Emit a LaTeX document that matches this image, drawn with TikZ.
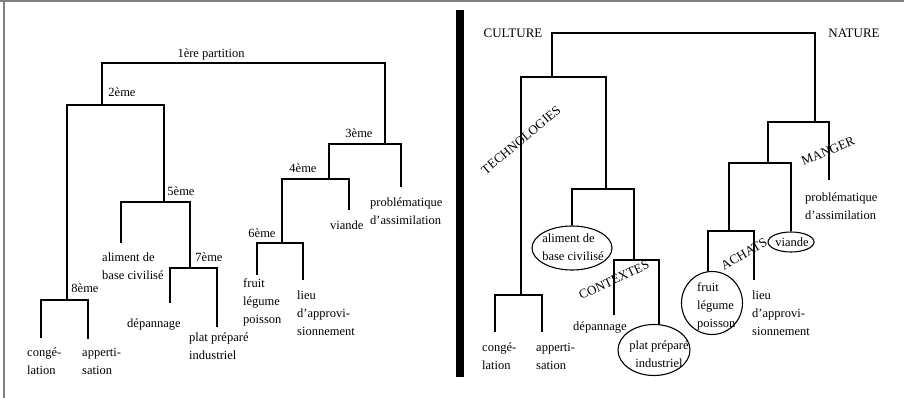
\documentclass[tikz,border=0pt]{standalone}
\usepackage{fontspec}
\setmainfont{Liberation Serif}
\usetikzlibrary{shapes.geometric}
\begin{document}
\begin{tikzpicture}[x=1pt,y=-1pt,
  br/.style={line width=1.1pt},
  lab/.style={inner sep=0pt, font=\fontsize{12.5}{18}\selectfont, align=left},
  capslab/.style={inner sep=0pt, font=\fontsize{13}{16}\selectfont},
  oval/.style={draw, line width=1.1pt, ellipse, inner sep=0pt}]
\useasboundingbox (0,0) rectangle (904,398);
% frame and separator
\draw[gray, line width=2pt] (0,1.5) -- (904,1.5);
\draw[gray, line width=1.5pt] (4,1.5) -- (4,398);
\fill (456,10) rectangle (464,377);

% ---------------- left tree ----------------
\coordinate (Lr) at (240,63);
\coordinate (L2) at (102,105);
\coordinate (L3) at (385,144);
\coordinate (L4) at (329,179);
\coordinate (L5) at (164,202);
\coordinate (L6) at (282,243);
\coordinate (L7) at (190,268);
\coordinate (L8) at (67,300);
\coordinate (la) at (41,338);
\coordinate (lb) at (88,339);
\coordinate (lc) at (121,243);
\coordinate (ld) at (170,303);
\coordinate (le) at (217,327);
\coordinate (lf) at (401,187);
\coordinate (lg) at (349,210);
\coordinate (lh) at (257,275);
\coordinate (li) at (303,280);

\draw[br] (L2) |- (Lr) -| (L3);
\draw[br] (L8) |- (L2) -| (L5);
\draw[br] (la) |- (L8) -| (lb);
\draw[br] (lc) |- (L5) -| (L7);
\draw[br] (ld) |- (L7) -| (le);
\draw[br] (L4) |- (L3) -| (lf);
\draw[br] (L6) |- (L4) -| (lg);
\draw[br] (lh) |- (L6) -| (li);

\node[lab] (p1) at (211,54) {1ère partition};
\node[lab] (p2) at (122,92) {2ème};
\node[lab] (p3) at (359,133) {3ème};
\node[lab] (p4) at (303,168) {4ème};
\node[lab] (p5) at (181,191) {5ème};
\node[lab] (p6) at (262,233) {6ème};
\node[lab] (p7) at (209,257) {7ème};
\node[lab] (p8) at (85,288) {8ème};

\node[lab, anchor=west] (tla) at (27,361) {congé-\\lation};
\node[lab, anchor=west] (tlb) at (82,361) {apperti-\\sation};
\node[lab, anchor=west] (tlc) at (102,266) {aliment de\\base civilisé};
\node[lab, anchor=west] (tld) at (127,325) {dépannage};
\node[lab, anchor=west] (tle) at (189,346) {plat préparé\\industriel};
\node[lab, anchor=west] (tlf) at (370,211) {problématique\\d’assimilation};
\node[lab, anchor=west] (tlg) at (330,225) {viande};
\node[lab, anchor=west] (tlh) at (243,302) {fruit\\légume\\poisson};
\node[lab, anchor=west] (tli) at (297,313) {lieu\\d’approvi-\\sionnement};

% ---------------- right tree ----------------
\node[oval, minimum width=80pt, minimum height=44pt] (alimE) at (572,248) {};
\node[oval, minimum width=72pt, minimum height=51pt] (platE) at (654,350) {};
\node[oval, minimum width=61pt, minimum height=63pt] (fruitE) at (712,303) {};
\node[oval, minimum width=46pt, minimum height=20pt] (viandeE) at (791,242) {};

\coordinate (Rr) at (683,33);
\coordinate (RT) at (552,77);
\coordinate (RN) at (815,122);
\coordinate (RTl) at (521,295);
\coordinate (RTr) at (606,189);
\coordinate (RC) at (634,260);
\coordinate (RM) at (768,163);
\coordinate (RA) at (729,231);
\coordinate (ra) at (495,332);
\coordinate (rb) at (542,332);
\coordinate (rd) at (614,315);
\coordinate (re) at (659,325.2);
\coordinate (rf) at (829,180);
\coordinate (rh) at (708,271.3);
\coordinate (ri) at (754,280);

\draw[br] (RT) |- (Rr) -| (RN);
\draw[br] (RTl) |- (RT) -| (RTr);
\draw[br] (ra) |- (RTl) -| (rb);
\draw[br] (alimE) |- (RTr) -| (RC);
\draw[br] (rd) |- (RC) -| (re);
\draw[br] (RM) |- (RN) -| (rf);
\draw[br] (RA) |- (RM) -| (viandeE);
\draw[br] (rh) |- (RA) -| (ri);

\node[capslab] (cult) at (513,33) {CULTURE};
\node[capslab] (nat) at (854,33) {NATURE};
\node[capslab, rotate=40] (tech) at (521,140) {TECHNOLOGIES};
\node[capslab, rotate=25] (cont) at (614,280) {CONTEXTES};
\node[capslab, rotate=23] (mang) at (828,151) {MANGER};
\node[capslab, rotate=30] (ach) at (744,254) {ACHATS};

\node[lab, anchor=west] (tra) at (482,356) {congé-\\lation};
\node[lab, anchor=west] (trb) at (536,356) {apperti-\\sation};
\node[lab] (trc) at (573,247) {aliment de\\base civilisé};
\node[lab, anchor=west] (trd) at (573,328) {dépannage};
\node[lab, align=center] (tre) at (659,354) {plat préparé\\industriel};
\node[lab, anchor=west] (trf) at (805,206) {problématique\\d’assimilation};
\node[lab] (trg) at (792,242) {viande};
\node[lab, anchor=west] (trh) at (697,306) {fruit\\légume\\poisson};
\node[lab, anchor=west] (tri) at (752,313) {lieu\\d’approvi-\\sionnement};
\end{tikzpicture}
\end{document}
